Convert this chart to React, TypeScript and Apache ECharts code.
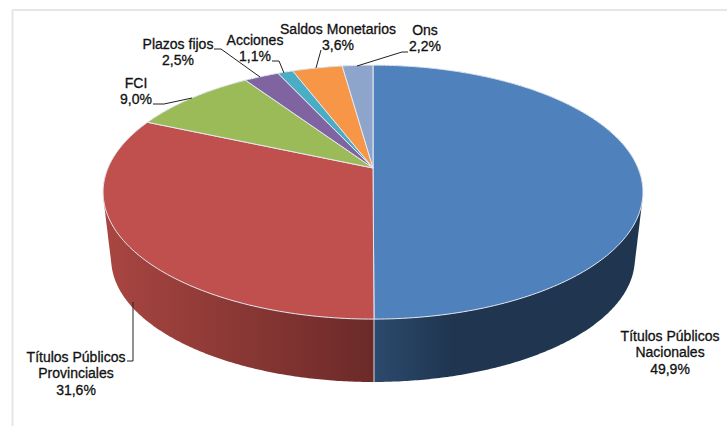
import React, { useEffect, useRef } from "react";
import * as echarts from "echarts";

const categories = ["Títulos Públicos\nNacionales", "Títulos Públicos\nProvinciales", "FCI", "Plazos fijos", "Acciones", "Saldos Monetarios", "Ons"];
const shares = [49.9, 31.6, 9.0, 2.5, 1.1, 3.6, 2.2];
const topColors = ["#4F81BD", "#C0504D", "#9BBB59", "#8064A2", "#4BACC6", "#F79646", "#8EA5CB"];
const wallNear = ["#2C4A6D", "#6B2A28", "#55692F", "#47365C", "#26606F", "#8F5420", "#4F5E75"];
const wallFar = ["#1F3550", "#A84541", "#55692F", "#47365C", "#26606F", "#8F5420", "#4F5E75"];
const wallSpread = [80, 265, 265, 265, 265, 265, 265];
const labelAnchors = [[670, 352], [76, 373], [136, 91], [178, 52], [255, 48], [338, 37], [425, 38]];
const leaders = [
  [],
  [[127, 361], [133, 361], [133, 302]],
  [[153, 104], [164, 104], [192, 98]],
  [[214, 49], [221, 49], [260, 77]],
  [[272, 61], [279, 61], [284, 73]],
  [[321, 50], [316, 68]],
  [[408, 52], [402, 52], [357, 66]],
];

const CX = 373;
const K = 0.19;
const RX = 265;
const RY = 122.4;
const TOP_CY = 168;
const BOTTOM_CY = 235.4;
const BOTTOM_SCALE = 0.97;

const project = (phi: number, cy: number, s: number) => {
  const d = 1 + K * Math.cos(phi);
  return [CX + (s * RX * Math.sin(phi)) / d, cy - (s * RY * Math.cos(phi)) / d];
};

const hull = (pts: number[][]) => {
  const s = [...pts].sort((p, q) => p[0] - q[0] || p[1] - q[1]);
  const cross = (o: number[], a: number[], b: number[]) => (a[0] - o[0]) * (b[1] - o[1]) - (a[1] - o[1]) * (b[0] - o[0]);
  const half = (list: number[][]) => {
    const out: number[][] = [];
    for (const p of list) {
      while (out.length >= 2 && cross(out[out.length - 2], out[out.length - 1], p) <= 0) out.pop();
      out.push(p);
    }
    out.pop();
    return out;
  };
  return [...half(s), ...half([...s].reverse())];
};

const total = shares.reduce((a, b) => a + b, 0);
let running = 0;
const slices = shares.map((v, i) => {
  const start = (running / total) * Math.PI * 2;
  running += v;
  return { value: [start, (running / total) * Math.PI * 2, i], name: categories[i].replace("\n", " ") };
});

const label = (v: number) => v.toFixed(1).replace(".", ",") + "%";

const renderWall = (_: any, api: any) => {
  const a = api.value(0);
  const b = api.value(1);
  const i = api.value(2);
  const pts: number[][] = [];
  const n = Math.max(4, Math.ceil((b - a) / (Math.PI / 360)));
  for (let j = 0; j <= n; j++) {
    const p = a + ((b - a) * j) / n;
    pts.push(project(p, TOP_CY, 1), project(p, BOTTOM_CY, BOTTOM_SCALE));
  }
  const dir = i === 0 ? 1 : -1;
  return {
    type: "polygon",
    shape: { points: hull(pts) },
    style: {
      fill: {
        type: "linear",
        global: true,
        x: CX,
        y: 0,
        x2: CX + dir * wallSpread[i],
        y2: 0,
        colorStops: [
          { offset: 0, color: wallNear[i] },
          { offset: 1, color: wallFar[i] },
        ],
      },
    },
  };
};

const renderTop = (_: any, api: any) => {
  const a = api.value(0);
  const b = api.value(1);
  const i = api.value(2);
  const points: number[][] = [[CX, TOP_CY]];
  const n = Math.max(4, Math.ceil((b - a) / (Math.PI / 180)));
  for (let j = 0; j <= n; j++) points.push(project(a + ((b - a) * j) / n, TOP_CY, 1));
  return {
    type: "polygon",
    shape: { points },
    style: { fill: topColors[i], stroke: "#E4E9F0", lineWidth: 1, lineJoin: "round" },
  };
};

const graphics: any[] = [
  { type: "line", shape: { x1: 12, y1: 10, x2: 727, y2: 10 }, style: { stroke: "#E6E6E6", lineWidth: 2 } },
  { type: "line", shape: { x1: 12.5, y1: 10, x2: 12.5, y2: 426 }, style: { stroke: "#E6E6E6", lineWidth: 2 } },
  { type: "line", z: 20, shape: { x1: 374, y1: 319, x2: 374, y2: 382 }, style: { stroke: "#D5DCE5", lineWidth: 1 } },
];
leaders.forEach((pts) => {
  if (pts.length) {
    graphics.push({ type: "polyline", z: 20, shape: { points: pts }, style: { stroke: "#222222", lineWidth: 1, fill: "none" } });
  }
});
categories.forEach((c, i) => {
  graphics.push({
    type: "text",
    z: 20,
    x: labelAnchors[i][0],
    y: labelAnchors[i][1],
    style: {
      text: c + "\n" + label(shares[i]),
      fill: "#111111",
      stroke: "#111111",
      lineWidth: 0.3,
      font: '14px "Liberation Sans", Arial, sans-serif',
      lineHeight: 16.5,
      align: "center",
      verticalAlign: "middle",
    },
  });
});

export default function App() {
  const ref = useRef<HTMLDivElement>(null);
  useEffect(() => {
    document.body.style.margin = "0";
    const chart = echarts.init(ref.current!, undefined, { renderer: "svg" });
    chart.setOption({
      animation: false,
      backgroundColor: "#FFFFFF",
      graphic: graphics,
      series: [
        { type: "custom", coordinateSystem: "none", renderItem: renderWall, data: slices, z: 2, silent: true },
        { type: "custom", coordinateSystem: "none", renderItem: renderTop, data: slices, z: 3, silent: true },
      ],
    });
    return () => chart.dispose();
  }, []);
  return <div ref={ref} style={{ width: 727, height: 426 }} />;
}
